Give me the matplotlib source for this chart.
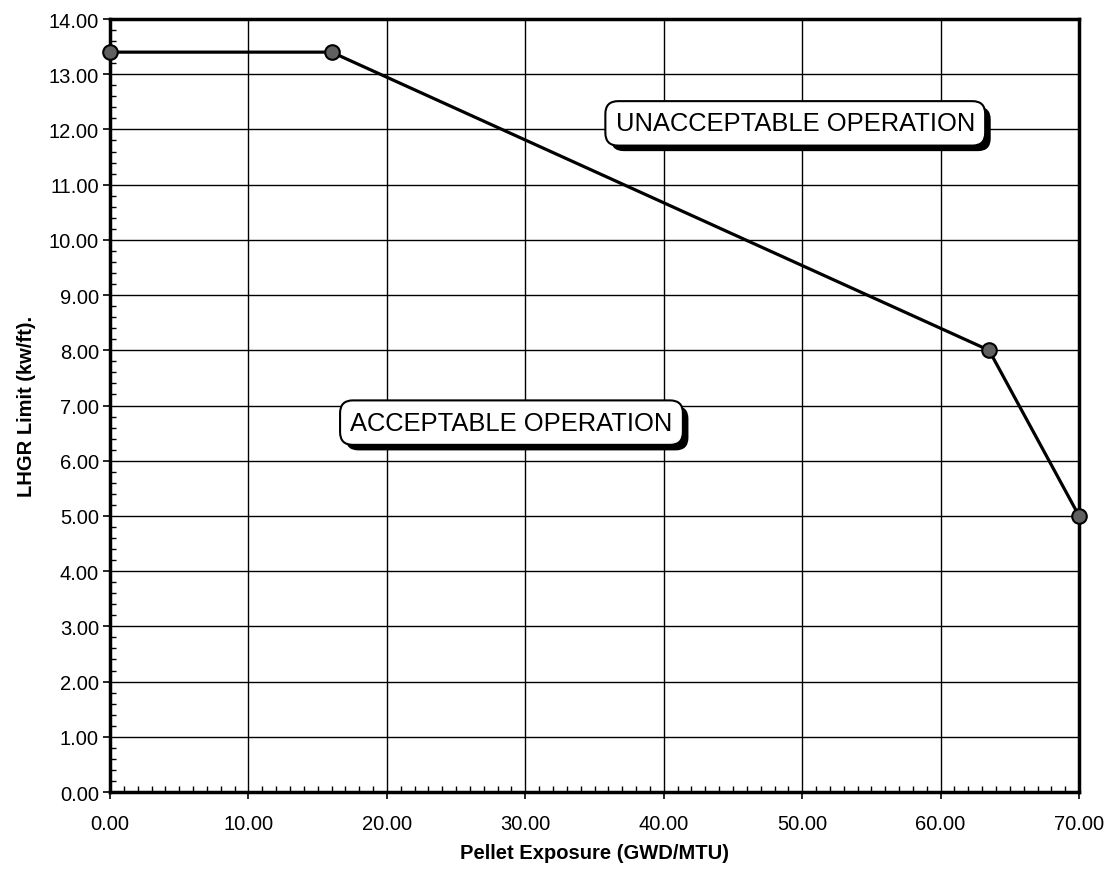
import numpy as np
import matplotlib
matplotlib.use("Agg")
import matplotlib.pyplot as plt
from matplotlib.ticker import MultipleLocator, FormatStrFormatter
import matplotlib.patheffects as pe

plt.rcParams['font.family'] = ['Liberation Sans', 'DejaVu Sans']

# Data
exposure = [0.0, 16.0, 63.5, 70.0]
lhgr = [13.4, 13.4, 8.0, 5.0]

fig = plt.figure(figsize=(11.09, 8.70), dpi=100)
ax = fig.add_axes([0.0992, 0.0885, 0.8738, 0.8885])

ax.plot(exposure, lhgr, color='black', lw=2.3, zorder=5, clip_on=False,
        marker='o', markersize=10.5, markerfacecolor='#606060',
        markeredgecolor='black', markeredgewidth=1.5)

ax.set_xlim(0, 70)
ax.set_ylim(0, 14)
ax.xaxis.set_major_locator(MultipleLocator(10))
ax.xaxis.set_minor_locator(MultipleLocator(1))
ax.yaxis.set_major_locator(MultipleLocator(1))
ax.yaxis.set_minor_locator(MultipleLocator(0.2))
ax.xaxis.set_major_formatter(FormatStrFormatter('%.2f'))
ax.yaxis.set_major_formatter(FormatStrFormatter('%.2f'))

ax.grid(True, which='major', color='black', lw=1.0)
ax.tick_params(which='major', direction='out', length=5, width=1.2,
               labelsize=14.5)
ax.tick_params(axis='x', which='major', pad=11)
ax.tick_params(axis='y', which='major', pad=3)
ax.tick_params(which='minor', direction='in', length=4, width=1.0)
for s in ax.spines.values():
    s.set_linewidth(2.5)

ax.set_xlabel('Pellet Exposure (GWD/MTU)', fontsize=14.5, fontweight='bold', labelpad=7)
ax.set_ylabel('LHGR Limit (kw/ft).', fontsize=14.5, fontweight='bold', labelpad=9)

shadow = [pe.withSimplePatchShadow(offset=(4, -4), shadow_rgbFace='black', alpha=1.0)]
for txt, x, y in [('ACCEPTABLE OPERATION', 29.0, 6.69),
                  ('UNACCEPTABLE OPERATION', 49.5, 12.11)]:
    t = ax.text(x, y, txt, fontsize=18.4, ha='center', va='center', zorder=6,
                bbox=dict(boxstyle='round,pad=0.4,rounding_size=0.5',
                          facecolor='white', edgecolor='black', lw=1.5))
    t.get_bbox_patch().set_path_effects(shadow)

fig.savefig('out.png', dpi=100)
